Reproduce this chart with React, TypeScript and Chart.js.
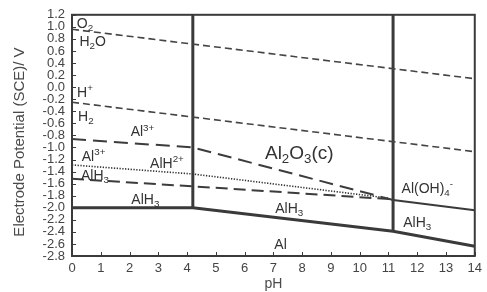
import React, { useEffect, useRef } from "react";
import { Chart, registerables } from "chart.js";

Chart.register(...registerables);

// Axis ranges
const PH_MIN = 0;
const PH_MAX = 14;
const PH_STEP = 1;
const E_MIN = -2.8;
const E_MAX = 1.2;
const E_STEP = 0.2;

const X_TITLE = "pH";
const Y_TITLE = "Electrode Potential (SCE)/ V";

// Boundary lines (pH, potential V vs SCE)
const O2_H2O_PH = [0, 14];
const O2_H2O_E = [0.96, 0.14];
const H_H2_PH = [0, 14];
const H_H2_E = [-0.25, -1.07];
const AL3_OXIDE_PH = [0, 4.2, 11.16];
const AL3_OXIDE_E = [-0.86, -1.0, -1.87];
const DOTTED_PH = [0, 4.2, 11.0];
const DOTTED_E = [-1.29, -1.44, -1.84];
const ALH3_PH = [0, 4.2, 11.16];
const ALH3_E = [-1.52, -1.645, -1.86];
const AL_PH = [0, 4.2, 11.16, 14];
const AL_E = [-2.0, -2.0, -2.39, -2.64];
const ALOH4_PH = [11.16, 14];
const ALOH4_E = [-1.87, -2.04];
const VERT1_PH = [4.2, 4.2];
const VERT1_E = [1.2, -2.0];
const VERT2_PH = [11.16, 11.16];
const VERT2_E = [1.2, -2.39];

// Region labels
const LABEL_TEXT = [
  "O_{2}", "H_{2}O", "H^{+}", "H_{2}", "Al^{3+}", "Al^{3+}", "AlH^{2+}",
  "AlH_{3}", "AlH_{3}", "Al_{2}O_{3}(c)", "AlH_{3}", "Al", "Al(OH)_{4}^{-}", "AlH_{3}",
];
const LABEL_PH = [0.45, 0.72, 0.45, 0.48, 2.45, 0.75, 3.3, 0.8, 2.55, 7.9, 7.55, 7.25, 12.35, 12.0];
const LABEL_E = [1.06, 0.76, -0.08, -0.47, -0.73, -1.14, -1.25, -1.46, -1.85, -1.07, -2.01, -2.6, -1.67, -2.24];
const LABEL_SIZE = [14, 14, 14, 14, 14, 14, 14, 14, 14, 19, 14, 14, 14, 14];

const FONT = "'Liberation Sans', Arial, sans-serif";
const INK = "#3a3a3a";

const pts = (xs: number[], ys: number[]) => xs.map((x, i) => ({ x, y: ys[i] }));

type Seg = { t: string; m: "n" | "sub" | "sup" };
function parseRich(s: string): Seg[] {
  const out: Seg[] = [];
  let i = 0;
  let buf = "";
  while (i < s.length) {
    const c = s[i];
    if ((c === "_" || c === "^") && s[i + 1] === "{") {
      if (buf) { out.push({ t: buf, m: "n" }); buf = ""; }
      const end = s.indexOf("}", i);
      out.push({ t: s.slice(i + 2, end), m: c === "_" ? "sub" : "sup" });
      i = end + 1;
    } else {
      buf += c;
      i++;
    }
  }
  if (buf) out.push({ t: buf, m: "n" });
  return out;
}

function drawRich(ctx: CanvasRenderingContext2D, s: string, x: number, y: number, size: number) {
  const segs = parseRich(s);
  const small = size * 0.7;
  let w = 0;
  for (const g of segs) {
    ctx.font = `${g.m === "n" ? size : small}px ${FONT}`;
    w += ctx.measureText(g.t).width;
  }
  let cx = x - w / 2;
  const base = y + size * 0.36;
  ctx.textAlign = "left";
  ctx.textBaseline = "alphabetic";
  for (const g of segs) {
    ctx.font = `${g.m === "n" ? size : small}px ${FONT}`;
    const dy = g.m === "sub" ? size * 0.22 : g.m === "sup" ? -size * 0.4 : 0;
    ctx.fillText(g.t, cx, base + dy);
    cx += ctx.measureText(g.t).width;
  }
}

const framePlugin = {
  id: "frame",
  afterDatasetsDraw(chart: any) {
    const { ctx, chartArea: a, scales } = chart;
    const xs = scales.x;
    const ys = scales.y;
    ctx.save();
    // inner tick marks
    ctx.strokeStyle = INK;
    ctx.lineWidth = 1;
    ctx.beginPath();
    for (let v = PH_MIN; v <= PH_MAX + 1e-9; v += PH_STEP) {
      const px = Math.round(xs.getPixelForValue(v)) + 0.5;
      ctx.moveTo(px, a.bottom);
      ctx.lineTo(px, a.bottom - 4);
    }
    const n = Math.round((E_MAX - E_MIN) / E_STEP);
    for (let k = 0; k <= n; k++) {
      const py = Math.round(ys.getPixelForValue(E_MIN + k * E_STEP)) + 0.5;
      ctx.moveTo(a.left, py);
      ctx.lineTo(a.left + 4, py);
    }
    ctx.stroke();
    // frame
    ctx.lineWidth = 2;
    ctx.strokeRect(a.left, a.top, a.right - a.left, a.bottom - a.top);
    // labels
    ctx.fillStyle = "#333";
    LABEL_TEXT.forEach((t, i) => {
      drawRich(ctx, t, xs.getPixelForValue(LABEL_PH[i]), ys.getPixelForValue(LABEL_E[i]), LABEL_SIZE[i]);
    });
    // axis titles
    ctx.fillStyle = "#4a4a4a";
    ctx.font = `14px ${FONT}`;
    ctx.textAlign = "center";
    ctx.textBaseline = "middle";
    ctx.fillText(X_TITLE, (a.left + a.right) / 2, 284);
    ctx.save();
    ctx.translate(20, 142);
    ctx.rotate(-Math.PI / 2);
    ctx.font = `15px ${FONT}`;
    ctx.fillText(Y_TITLE, 0, 0);
    ctx.restore();
    ctx.restore();
  },
};

export default function App() {
  const ref = useRef<HTMLCanvasElement | null>(null);
  useEffect(() => {
    document.body.style.margin = "0";
    const canvas = ref.current;
    if (!canvas) return;
    const line = (xs: number[], ys: number[], width: number, dash: number[], color = INK) => ({
      data: pts(xs, ys),
      showLine: true,
      borderColor: color,
      backgroundColor: color,
      borderWidth: width,
      borderDash: dash,
      pointRadius: 0,
      pointHoverRadius: 0,
      fill: false,
      tension: 0,
      borderCapStyle: "butt" as const,
    });
    const chart = new Chart(canvas, {
      type: "scatter",
      data: {
        datasets: [
          line(O2_H2O_PH, O2_H2O_E, 1.6, [7, 4], "#444"),
          line(H_H2_PH, H_H2_E, 1.6, [7, 4], "#444"),
          line(AL3_OXIDE_PH, AL3_OXIDE_E, 2, [14, 7], "#3c3c3c"),
          line(DOTTED_PH, DOTTED_E, 1.6, [1.3, 1.5], "#333"),
          line(ALH3_PH, ALH3_E, 2, [12, 6], "#3c3c3c"),
          line(ALOH4_PH, ALOH4_E, 2, []),
          line(AL_PH, AL_E, 3, []),
          line(VERT1_PH, VERT1_E, 3, []),
          line(VERT2_PH, VERT2_E, 3, []),
        ],
      },
      options: {
        animation: false,
        responsive: false,
        maintainAspectRatio: false,
        events: [],
        layout: { padding: { top: 10, right: 2, left: 0, bottom: 0 } },
        plugins: { legend: { display: false }, tooltip: { enabled: false } },
        scales: {
          x: {
            type: "linear",
            min: PH_MIN,
            max: PH_MAX,
            grid: { display: false, drawTicks: false },
            border: { display: false },
            afterFit: (s: any) => { s.height = 36; },
            ticks: {
              stepSize: PH_STEP,
              autoSkip: false,
              maxRotation: 0,
              padding: 5,
              color: "#444",
              font: { size: 13, family: FONT },
            },
          },
          y: {
            type: "linear",
            min: E_MIN,
            max: E_MAX,
            grid: { display: false, drawTicks: false },
            border: { display: false },
            afterFit: (s: any) => { s.width = 72; },
            ticks: {
              stepSize: E_STEP,
              autoSkip: false,
              padding: 7,
              color: "#444",
              font: { size: 13, family: FONT },
              callback: (v: any) => {
                const n = Number(v);
                return (Math.abs(n) < 1e-9 ? 0 : n).toFixed(1);
              },
            },
          },
        },
      },
      plugins: [framePlugin],
    });
    return () => chart.destroy();
  }, []);
  return (
    <div style={{ position: "fixed", left: 0, top: 0, width: 487, height: 292, background: "#fff" }}>
      <canvas ref={ref} width={487} height={292} style={{ width: 487, height: 292, display: "block" }} />
    </div>
  );
}
